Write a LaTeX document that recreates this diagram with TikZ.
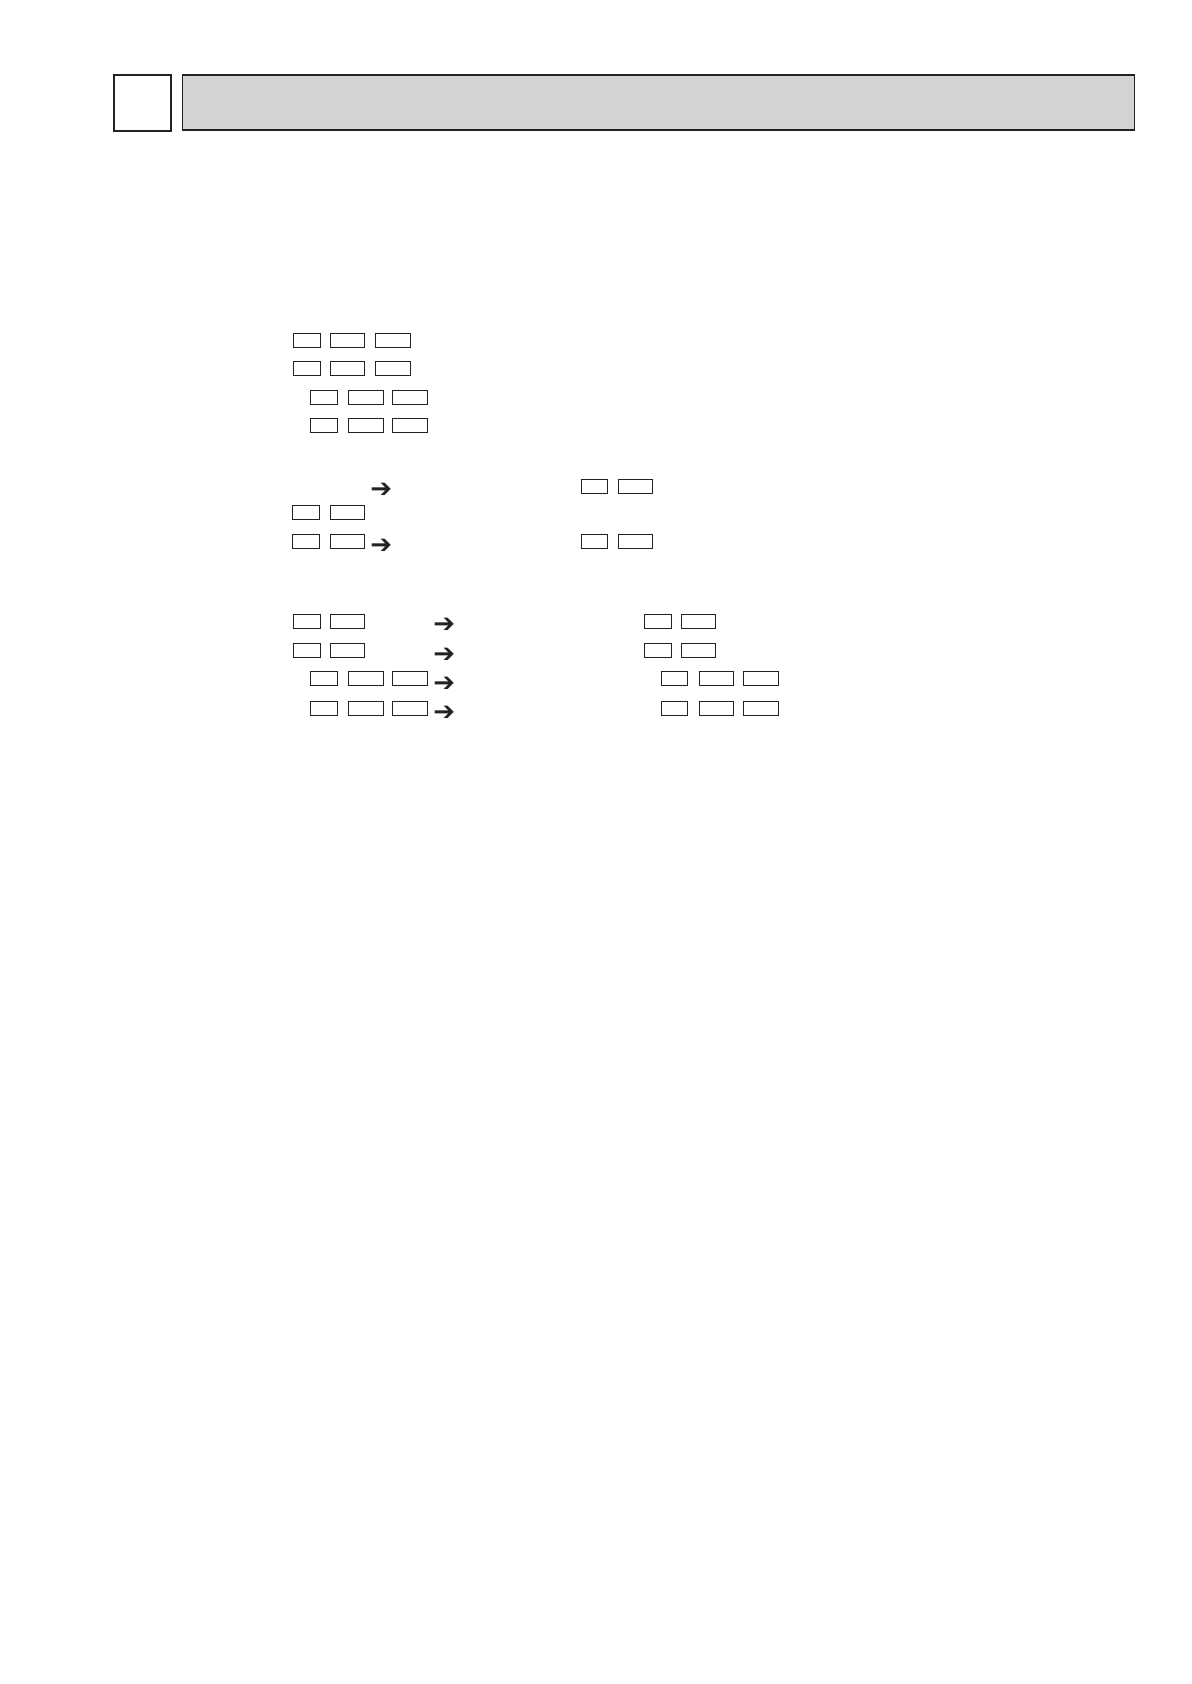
\documentclass[tikz,border=0pt]{standalone}
\usepackage{fontspec}
\newfontfamily\arrowfont{DejaVu Sans Bold}
\definecolor{hdrgray}{HTML}{D3D3D3}
\definecolor{lineblk}{HTML}{222222}
\tikzset{
  kbox/.style={draw=lineblk, line width=0.5pt, rectangle, inner sep=0pt, anchor=west, minimum height=7pt},
  ks/.style={kbox, minimum width=13.2pt},
  km/.style={kbox, minimum width=17.2pt},
  arr/.style={inner sep=0pt, anchor=west, font=\arrowfont\fontsize{13}{14}\selectfont, text=lineblk}
}
\begin{document}
\begin{tikzpicture}[x=0.5pt,y=-0.5pt]
\useasboundingbox (0,0) rectangle (1191,1684);
% header
\node[draw=lineblk, line width=0.65pt, fill=white, minimum width=28.5pt, minimum height=28pt, inner sep=0pt, anchor=north west] (hsq) at (113.3,74.3) {};
\node[draw=lineblk, line width=0.65pt, fill=hdrgray, minimum width=476pt, minimum height=27.5pt, inner sep=0pt, anchor=north west] (hbar) at (181.7,74.3) {};
% section 1
\foreach \r/\y in {a/340.5, b/369} {
  \node[ks] (\r1) at (293.3,\y) {};
  \node[km] (\r2) at (330,\y) {};
  \node[km] (\r3) at (375.3,\y) {};
}
\foreach \r/\y in {c/397.3, d/425.5} {
  \node[ks] (\r1) at (310.3,\y) {};
  \node[km] (\r2) at (348.3,\y) {};
  \node[km] (\r3) at (392.3,\y) {};
}
% section 2
\node[arr] (p1) at (370,490) {➔};
\node[ks] (e1) at (581,486) {};
\node[km] (e2) at (618,486) {};
\node[ks] (f1) at (292.3,512) {};
\node[km] (f2) at (330,512) {};
\node[ks] (g1) at (292.3,541.5) {};
\node[km] (g2) at (330,541.5) {};
\node[arr] (p2) at (370,546) {➔};
\node[ks] (g3) at (581,541.5) {};
\node[km] (g4) at (618,541.5) {};
% section 3
\foreach \r/\y/\ay in {h/621/625.5, i/650.5/655} {
  \node[ks] (\r1) at (293.3,\y) {};
  \node[km] (\r2) at (330,\y) {};
  \node[arr] (\r a) at (433,\ay) {➔};
  \node[ks] (\r3) at (644.3,\y) {};
  \node[km] (\r4) at (681,\y) {};
}
\foreach \r/\y/\ay in {j/678.5/684, k/708.5/713} {
  \node[ks] (\r1) at (310.3,\y) {};
  \node[km] (\r2) at (348.3,\y) {};
  \node[km] (\r3) at (392.3,\y) {};
  \node[arr] (\r a) at (433,\ay) {➔};
  \node[ks] (\r4) at (661,\y) {};
  \node[km] (\r5) at (699,\y) {};
  \node[km] (\r6) at (743.3,\y) {};
}
\end{tikzpicture}
\end{document}
